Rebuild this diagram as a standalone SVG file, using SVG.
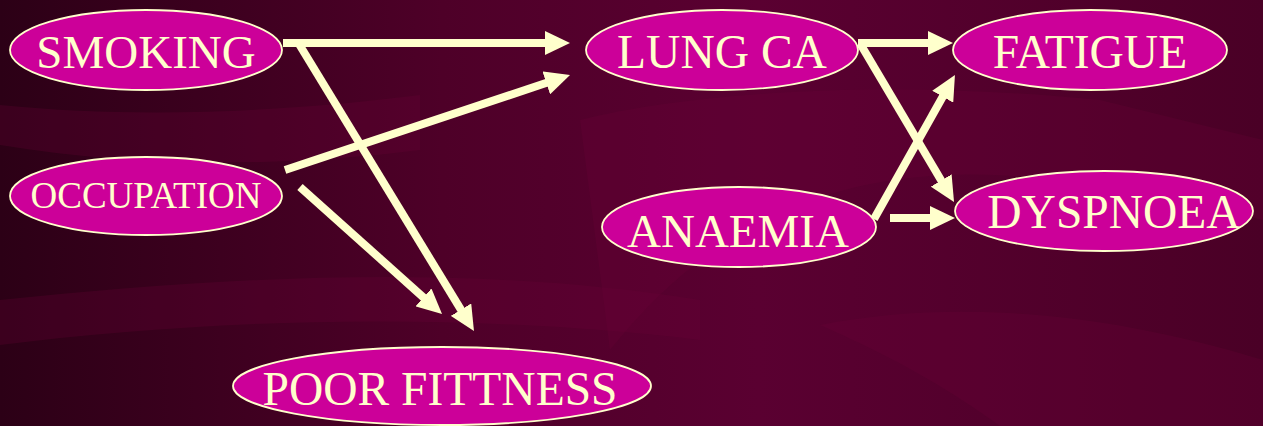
<svg xmlns="http://www.w3.org/2000/svg" width="1263" height="426" viewBox="0 0 1263 426">
<defs>
<linearGradient id="bg" x1="0" y1="0" x2="1" y2="0">
<stop offset="0" stop-color="#2c0016"/>
<stop offset="0.35" stop-color="#4e0028"/>
<stop offset="0.6" stop-color="#5a0031"/>
<stop offset="1" stop-color="#4a0026"/>
</linearGradient>
<marker id="ah" viewBox="0 0 25 24" refX="2" refY="12" markerWidth="25" markerHeight="24" markerUnits="userSpaceOnUse" orient="auto">
<path d="M0,0 L25,12 L0,24 Z" fill="#ffffcc"/>
</marker>
<style>
.node ellipse{fill:#cc0099;stroke:#ffffcc;stroke-width:1.8}
.node text{font-family:'Liberation Serif','Times New Roman',Times,serif;fill:#ffffcc;text-anchor:middle}
.edge{stroke:#ffffcc;stroke-width:8;fill:none;marker-end:url(#ah)}
.sw{fill:#6a0038;opacity:0.25}
</style>
</defs>
<rect width="1263" height="426" fill="url(#bg)"/>
<path class="sw" d="M0,105 C150,120 300,110 420,95 L420,150 C300,165 150,170 0,145 Z"/>
<path class="sw" d="M0,300 C200,280 450,260 700,300 L700,340 C450,310 200,320 0,345 Z"/>
<path class="sw" d="M580,120 C700,90 900,80 1100,100 L1263,140 L1263,220 C1050,170 800,110 610,350 Z"/>
<path class="sw" d="M820,325 C950,300 1100,310 1263,360 L1263,426 L1000,426 C950,390 900,360 820,325 Z"/>
<g id="connectors">
<line class="edge" x1="283" y1="43" x2="547" y2="43"/>
<line class="edge" x1="299" y1="44" x2="462" y2="311.4"/>
<line class="edge" x1="285" y1="170" x2="548.2" y2="82.3"/>
<line class="edge" x1="300" y1="187" x2="424.9" y2="298.7"/>
<line class="edge" x1="858" y1="43" x2="930" y2="43"/>
<line class="edge" x1="861" y1="45" x2="942.3" y2="182.2"/>
<line class="edge" x1="874" y1="219" x2="943.7" y2="95"/>
<line class="edge" x1="890" y1="218" x2="932" y2="218"/>
</g>
<g id="smoking" class="node"><ellipse cx="146" cy="50" rx="136" ry="40"/><text x="146" y="68" font-size="47">SMOKING</text></g>
<g id="occupation" class="node"><ellipse cx="146" cy="196" rx="136" ry="39"/><text x="146" y="208" font-size="37">OCCUPATION</text></g>
<g id="lungca" class="node"><ellipse cx="722" cy="50" rx="136" ry="40"/><text x="722" y="68" font-size="47.5">LUNG CA</text></g>
<g id="anaemia" class="node"><ellipse cx="739" cy="227" rx="137" ry="40"/><text x="738" y="247" font-size="47">ANAEMIA</text></g>
<g id="fatigue" class="node"><ellipse cx="1090" cy="50" rx="137" ry="40"/><text x="1090" y="68" font-size="47.5">FATIGUE</text></g>
<g id="dyspnoea" class="node"><ellipse cx="1104" cy="211" rx="149" ry="40"/><text x="1114" y="228" font-size="47.5">DYSPNOEA</text></g>
<g id="poorfittness" class="node"><ellipse cx="442" cy="386" rx="209" ry="39"/><text x="440" y="405" font-size="47.5">POOR FITTNESS</text></g>
</svg>
